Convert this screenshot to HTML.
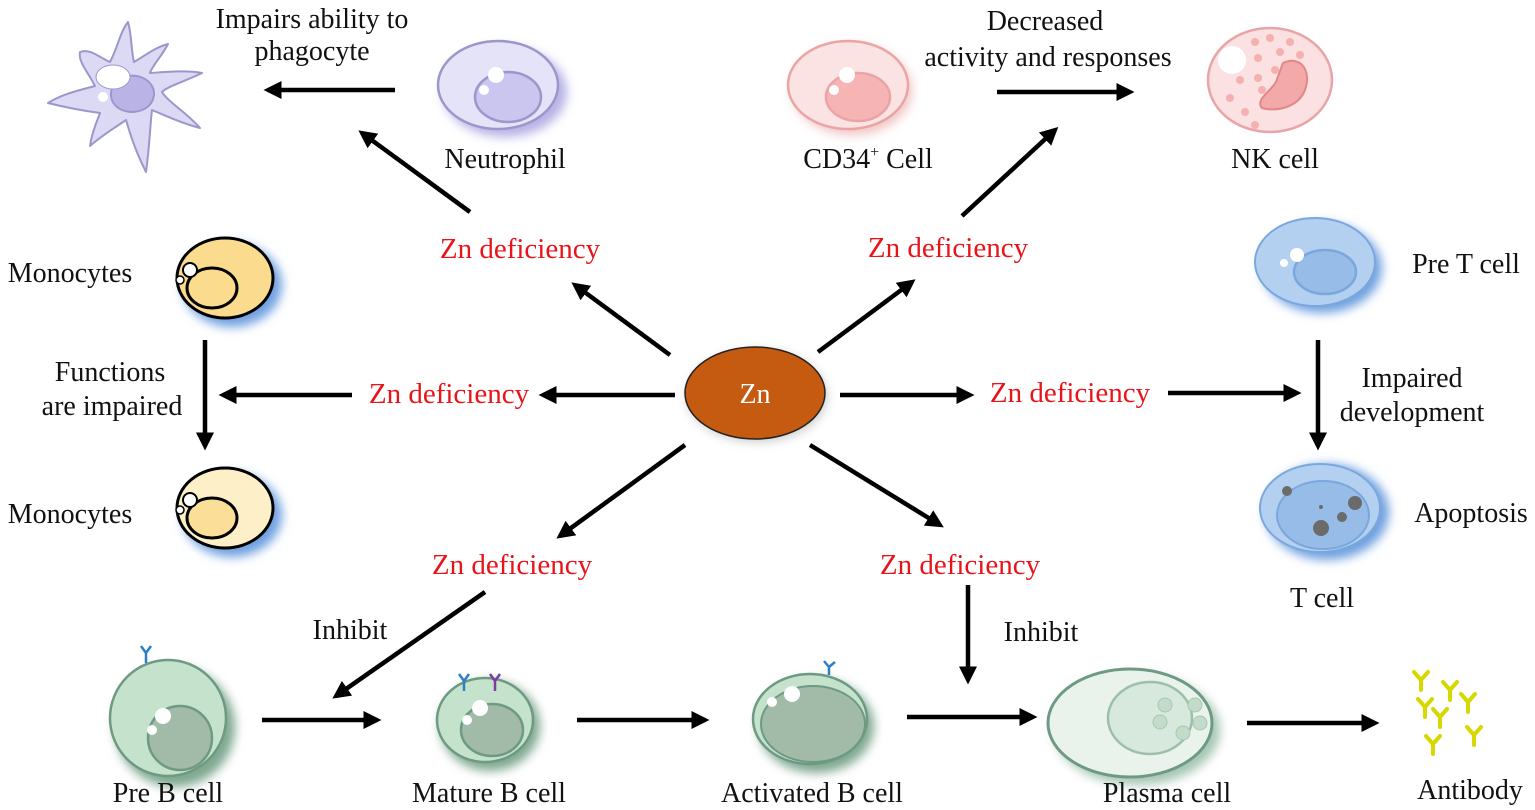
<!DOCTYPE html>
<html><head><meta charset="utf-8"><style>
html,body{margin:0;padding:0;background:#fff;width:1535px;height:810px;overflow:hidden}
svg text{font-family:"Liberation Serif",serif;font-size:28px;fill:#111}
.r{fill:#e8141a !important;font-size:29px}
</style></head><body>
<svg width="1535" height="810" viewBox="0 0 1535 810" xmlns="http://www.w3.org/2000/svg">
<defs>
<marker id="a" markerWidth="4" markerHeight="4" refX="3" refY="2" orient="auto" markerUnits="strokeWidth"><path d="M0,0 L4,2 L0,4 z" fill="#000"/></marker>
<filter id="b" x="-30%" y="-30%" width="170%" height="170%"><feGaussianBlur stdDeviation="5"/></filter>
</defs>
<g stroke="#000" stroke-width="4.5" fill="none" marker-end="url(#a)">
<line x1="395" y1="90" x2="268" y2="90"/>
<line x1="470" y1="212" x2="362" y2="133"/>
<line x1="670" y1="355" x2="575" y2="285"/>
<line x1="818" y1="352" x2="912" y2="282"/>
<line x1="962" y1="216" x2="1055" y2="130"/>
<line x1="997" y1="92" x2="1130" y2="92"/>
<line x1="675" y1="395" x2="543" y2="395"/>
<line x1="352" y1="395" x2="223" y2="395"/>
<line x1="205" y1="340" x2="205" y2="446"/>
<line x1="840" y1="395" x2="970" y2="395"/>
<line x1="1168" y1="393" x2="1297" y2="393"/>
<line x1="1318" y1="340" x2="1318" y2="446"/>
<line x1="685" y1="445" x2="560" y2="536"/>
<line x1="485" y1="592" x2="336" y2="696"/>
<line x1="810" y1="445" x2="940" y2="525"/>
<line x1="968" y1="585" x2="968" y2="680"/>
<line x1="262" y1="720" x2="377" y2="720"/>
<line x1="577" y1="720" x2="705" y2="720"/>
<line x1="907" y1="717" x2="1033" y2="717"/>
<line x1="1247" y1="723" x2="1375" y2="723"/>
</g>
<!-- Zn -->
<ellipse cx="757" cy="396" rx="70" ry="46" fill="#999" filter="url(#b)" opacity=".5"/>
<ellipse cx="755" cy="393" rx="70" ry="46" fill="#c55a11" stroke="#222" stroke-width="1.5"/>
<text x="755" y="403" text-anchor="middle" style="fill:#fff;font-size:28px">Zn</text>
<!-- dendritic -->
<path d="M48,103 C62,94 80,90 95,86 C88,72 78,62 80,52 C90,48 100,58 110,62 C118,47 120,32 128,22 C132,36 131,50 134,62 C146,55 156,47 168,44 C162,56 152,66 150,73 C166,72 186,70 202,73 C186,81 168,86 162,92 C168,102 186,112 200,128 C180,123 162,114 152,110 C150,126 150,142 146,172 C136,152 131,137 126,120 C116,127 101,136 90,146 C92,131 98,119 100,113 C85,111 68,108 48,103 Z" fill="#dcd9f4" stroke="#9d96cc" stroke-width="2" stroke-linejoin="round"/>
<path d="M118,80 C132,70 155,78 154,95 C152,110 135,115 122,110 C108,104 108,88 118,80Z" fill="#b9b3e6" stroke="#9d96cc" stroke-width="2"/>
<ellipse cx="113" cy="77" rx="17" ry="12" fill="#fff" stroke="#9d96cc"/>
<circle cx="103" cy="97" r="5" fill="#fff"/>
<!-- neutrophil -->
<ellipse cx="505" cy="92" rx="62" ry="45" fill="#b7b2e6" filter="url(#b)"/>
<ellipse cx="498" cy="85" rx="60" ry="44" fill="#e5e3f8" stroke="#9d96cc" stroke-width="2.5"/>
<ellipse cx="508" cy="97" rx="33" ry="25" fill="#cac6ef" stroke="#9d96cc" stroke-width="2.5"/>
<circle cx="496" cy="75" r="8" fill="#fff"/><circle cx="484" cy="90" r="5" fill="#fff"/>
<!-- CD34 -->
<ellipse cx="852" cy="90" rx="60" ry="45" fill="#f1c4c4" filter="url(#b)"/>
<ellipse cx="848" cy="85" rx="60" ry="44" fill="#fbe3e3" stroke="#e9a5a5" stroke-width="2.5"/>
<ellipse cx="858" cy="97" rx="32" ry="24" fill="#f6b4b4" stroke="#e9a5a5" stroke-width="2.5"/>
<circle cx="847" cy="75" r="8" fill="#fff"/><circle cx="834" cy="90" r="5" fill="#fff"/>
<!-- NK -->
<ellipse cx="1270" cy="80" rx="62" ry="52" fill="#fbe1e1" stroke="#e9a5a5" stroke-width="2.5"/>
<circle cx="1232" cy="60" r="14" fill="#fff"/>
<path d="M1283,63 C1300,55 1312,70 1305,90 C1298,108 1275,112 1262,108 C1255,100 1270,92 1276,82 Z" fill="#f3a9a9" stroke="#e08888" stroke-width="2"/>
<g fill="#f5b0b0"><circle cx="1255" cy="42" r="4"/><circle cx="1270" cy="38" r="4"/><circle cx="1290" cy="42" r="4"/><circle cx="1258" cy="58" r="4"/><circle cx="1280" cy="52" r="4"/><circle cx="1300" cy="55" r="4"/><circle cx="1240" cy="80" r="4"/><circle cx="1258" cy="78" r="4"/><circle cx="1275" cy="70" r="4"/><circle cx="1230" cy="98" r="4"/><circle cx="1245" cy="112" r="4"/><circle cx="1262" cy="90" r="4"/><circle cx="1255" cy="125" r="4"/></g>
<!-- monocytes -->
<ellipse cx="232" cy="285" rx="50" ry="42" fill="#6fa0e0" filter="url(#b)"/>
<ellipse cx="225" cy="278" rx="48" ry="40" fill="#fbdc8f" stroke="#000" stroke-width="3"/>
<ellipse cx="212" cy="288" rx="25" ry="20" fill="none" stroke="#000" stroke-width="3"/>
<circle cx="190" cy="270" r="7" fill="#fff" stroke="#000" stroke-width="2"/><circle cx="180" cy="280" r="4" fill="#fff" stroke="#000" stroke-width="1.5"/>
<ellipse cx="232" cy="515" rx="50" ry="42" fill="#6fa0e0" filter="url(#b)"/>
<ellipse cx="225" cy="508" rx="48" ry="40" fill="#fdf0c8" stroke="#000" stroke-width="3"/>
<ellipse cx="212" cy="518" rx="25" ry="20" fill="#fbdf98" stroke="#000" stroke-width="3"/>
<circle cx="190" cy="500" r="7" fill="#fff" stroke="#000" stroke-width="2"/><circle cx="180" cy="510" r="4" fill="#fff" stroke="#000" stroke-width="1.5"/>
<!-- T cells -->
<ellipse cx="1322" cy="268" rx="60" ry="45" fill="#6fa0e0" filter="url(#b)"/>
<ellipse cx="1315" cy="262" rx="60" ry="44" fill="#b4d0f0" stroke="#7aa7dc" stroke-width="2"/>
<ellipse cx="1325" cy="272" rx="31" ry="22" fill="#98bce8" stroke="#7aa7dc" stroke-width="2.5"/>
<circle cx="1297" cy="255" r="7" fill="#fff"/><circle cx="1284" cy="263" r="4" fill="#fff"/>
<ellipse cx="1327" cy="512" rx="62" ry="48" fill="#6fa0e0" filter="url(#b)"/>
<ellipse cx="1320" cy="508" rx="60" ry="44" fill="#b4d0f0" stroke="#7aa7dc" stroke-width="2"/>
<ellipse cx="1323" cy="515" rx="46" ry="34" fill="#98bce8" stroke="#7aa7dc" stroke-width="2"/>
<g fill="#6b6b6b"><circle cx="1287" cy="491" r="5"/><circle cx="1355" cy="503" r="7"/><circle cx="1342" cy="517" r="5"/><circle cx="1321" cy="528" r="8"/><circle cx="1321" cy="507" r="2"/></g>
<!-- Pre B -->
<ellipse cx="175" cy="727" rx="60" ry="60" fill="#7fa890" filter="url(#b)"/>
<ellipse cx="168" cy="718" rx="58" ry="58" fill="#c5e2cc" stroke="#6e9a83" stroke-width="2.5"/>
<ellipse cx="180" cy="738" rx="32" ry="32" fill="#a2bba8" stroke="#6e9a83" stroke-width="2.5"/>
<circle cx="163" cy="716" r="8" fill="#fff"/><circle cx="152" cy="730" r="5" fill="#fff"/>
<path d="M146,663 v-10 M146,653 l-5,-7 M146,653 l5,-7" stroke="#2b7fc3" stroke-width="2.5" fill="none"/>
<!-- Mature B -->
<ellipse cx="490" cy="726" rx="50" ry="45" fill="#7fa890" filter="url(#b)"/>
<ellipse cx="485" cy="720" rx="48" ry="42" fill="#c5e2cc" stroke="#6e9a83" stroke-width="2.5"/>
<ellipse cx="492" cy="730" rx="31" ry="26" fill="#a2bba8" stroke="#6e9a83" stroke-width="2.5"/>
<circle cx="480" cy="708" r="8" fill="#fff"/><circle cx="467" cy="720" r="5" fill="#fff"/>
<path d="M464,691 v-10 M464,681 l-5,-7 M464,681 l5,-7" stroke="#2b7fc3" stroke-width="2.5" fill="none"/>
<path d="M495,691 v-10 M495,681 l-5,-7 M495,681 l5,-7" stroke="#7a3fa0" stroke-width="2.5" fill="none"/>
<!-- Activated B -->
<ellipse cx="816" cy="726" rx="58" ry="47" fill="#7fa890" filter="url(#b)"/>
<ellipse cx="810" cy="719" rx="57" ry="45" fill="#c5e2cc" stroke="#6e9a83" stroke-width="2.5"/>
<ellipse cx="813" cy="724" rx="52" ry="38" fill="#a2bba8" stroke="#6e9a83" stroke-width="2"/>
<circle cx="792" cy="694" r="8" fill="#fff"/><circle cx="772" cy="702" r="5" fill="#fff"/>
<path d="M829,675 v-8 M829,667 l-5,-6 M829,667 l6,-5" stroke="#2b7fc3" stroke-width="2.5" fill="none"/>
<!-- Plasma -->
<ellipse cx="1137" cy="730" rx="83" ry="55" fill="#8fb8a0" filter="url(#b)" opacity=".8"/>
<ellipse cx="1130" cy="723" rx="82" ry="54" fill="#e9f3ec" stroke="#6e9a83" stroke-width="3"/>
<ellipse cx="1150" cy="718" rx="42" ry="36" fill="#d7e9dc" stroke="#9cbfa8" stroke-width="2.5"/>
<g fill="#c3dbc9" stroke="#a9c6b2"><circle cx="1165" cy="705" r="7"/><circle cx="1195" cy="705" r="7"/><circle cx="1160" cy="722" r="7"/><circle cx="1200" cy="723" r="7"/><circle cx="1183" cy="733" r="7"/></g>
<!-- antibodies -->
<g stroke="#d8d800" stroke-width="4" fill="none" stroke-linecap="round">
<path d="M1421,680 v10 m0,-10 l-7,-8 m7,8 l7,-8"/>
<path d="M1450,690 v10 m0,-10 l-7,-8 m7,8 l7,-8"/>
<path d="M1468,702 v10 m0,-10 l-7,-8 m7,8 l7,-8"/>
<path d="M1425,707 v10 m0,-10 l-7,-8 m7,8 l7,-8"/>
<path d="M1440,717 v10 m0,-10 l-7,-8 m7,8 l7,-8"/>
<path d="M1474,735 v10 m0,-10 l-7,-8 m7,8 l7,-8"/>
<path d="M1433,744 v10 m0,-10 l-7,-8 m7,8 l7,-8"/>
</g>
<!-- texts -->
<text x="312" y="28" text-anchor="middle">Impairs ability to</text>
<text x="312" y="60" text-anchor="middle">phagocyte</text>
<text x="505" y="168" text-anchor="middle">Neutrophil</text>
<text x="868" y="168" text-anchor="middle">CD34<tspan font-size="16" dy="-11">+</tspan><tspan dy="11"> Cell</tspan></text>
<text x="1045" y="30" text-anchor="middle">Decreased</text>
<text x="1048" y="66" text-anchor="middle">activity and responses</text>
<text x="1275" y="168" text-anchor="middle">NK cell</text>
<text class="r" x="520" y="258" text-anchor="middle">Zn deficiency</text>
<text class="r" x="948" y="257" text-anchor="middle">Zn deficiency</text>
<text class="r" x="449" y="403" text-anchor="middle">Zn deficiency</text>
<text class="r" x="1070" y="402" text-anchor="middle">Zn deficiency</text>
<text class="r" x="512" y="574" text-anchor="middle">Zn deficiency</text>
<text class="r" x="960" y="574" text-anchor="middle">Zn deficiency</text>
<text x="70" y="282" text-anchor="middle">Monocytes</text>
<text x="70" y="523" text-anchor="middle">Monocytes</text>
<text x="110" y="381" text-anchor="middle">Functions</text>
<text x="112" y="415" text-anchor="middle">are impaired</text>
<text x="1466" y="273" text-anchor="middle">Pre T cell</text>
<text x="1412" y="387" text-anchor="middle">Impaired</text>
<text x="1412" y="421" text-anchor="middle">development</text>
<text x="1471" y="522" text-anchor="middle">Apoptosis</text>
<text x="1322" y="607" text-anchor="middle">T cell</text>
<text x="350" y="639" text-anchor="middle">Inhibit</text>
<text x="1041" y="641" text-anchor="middle">Inhibit</text>
<text x="168" y="802" text-anchor="middle">Pre B cell</text>
<text x="489" y="802" text-anchor="middle">Mature B cell</text>
<text x="812" y="802" text-anchor="middle">Activated B cell</text>
<text x="1167" y="802" text-anchor="middle">Plasma cell</text>
<text x="1470" y="799" text-anchor="middle">Antibody</text>
</svg>
</body></html>
